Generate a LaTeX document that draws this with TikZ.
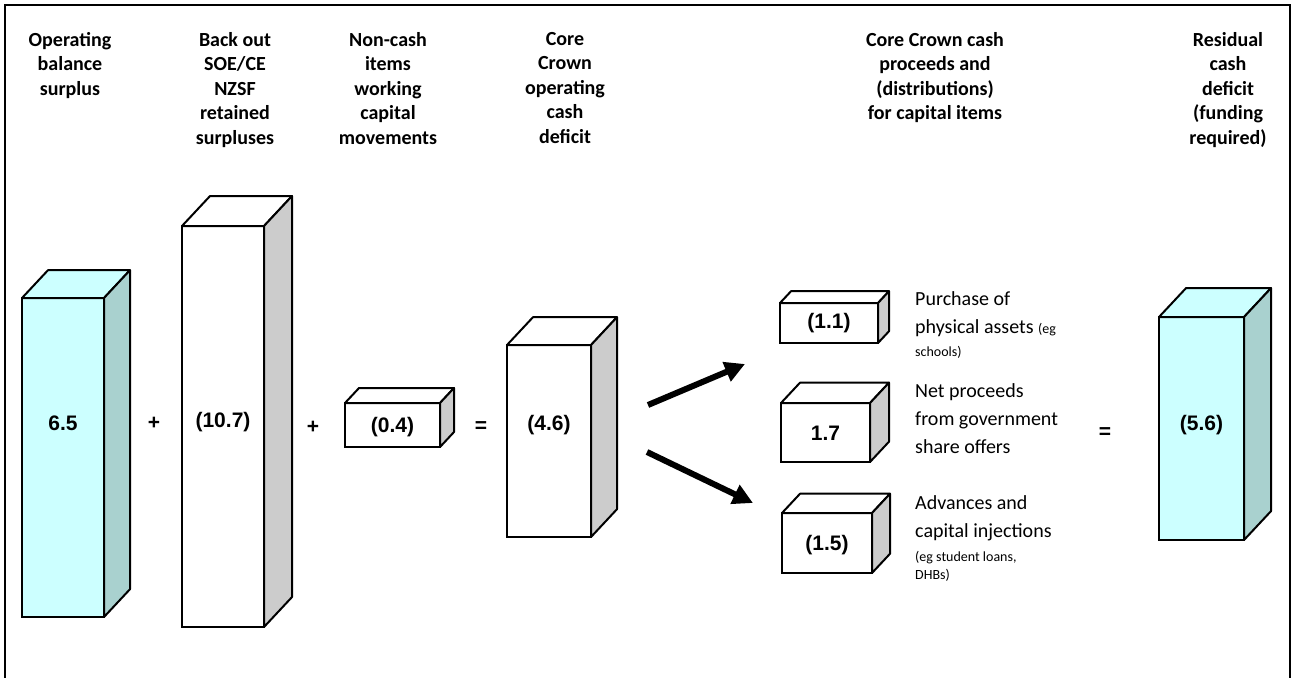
\documentclass[tikz,border=0pt]{standalone}
\usepackage{fontspec}
\setmainfont{Carlito}
\newfontfamily\arialfont{Liberation Sans}
\usetikzlibrary{arrows.meta}

\definecolor{cyanface}{HTML}{CCFFFF}
\definecolor{cyanshade}{HTML}{A9D1CF}
\definecolor{greyshade}{HTML}{CCCCCC}

\newcommand{\notesmall}{\fontsize{14}{16}\selectfont}

\tikzset{
  front/.style={draw, line width=2pt, anchor=north west, inner sep=0pt, outer sep=0pt},
  cyanbox/.style={fill=cyanface},
  cyanbox side/.style={fill=cyanshade},
  whitebox/.style={fill=white},
  whitebox side/.style={fill=greyshade},
  value/.style={font=\arialfont\bfseries\fontsize{21}{24}\selectfont, inner sep=0pt},
  heading/.style={font=\bfseries\fontsize{20}{24.5}\selectfont, align=center, anchor=north, inner sep=0pt},
  note/.style={font=\fontsize{20}{28}\selectfont, align=left, anchor=base west, inner sep=0pt},
  flow/.style={line width=6pt, -{Triangle[length=20pt,width=20pt]}},
}

% name, x, y, width, height, depth, style, value y, value
\newcommand{\crate}[9]{%
  \node[front,#7,minimum width=#4,minimum height=#5] (#1) at (#2,#3) {};
  \draw[line width=2pt,line join=round,#7] (#1.north west) -- ++(#6,-#6*1.07) -- ++(#4,0) -- (#1.north east) -- cycle;
  \draw[line width=2pt,line join=round,#7 side] (#1.north east) -- ++(#6,-#6*1.07) -- ++(0,#5) -- (#1.south east) -- cycle;
  \node[value] (#1-val) at ({#2+#4/2},#8) {#9};
}

\begin{document}
\begin{tikzpicture}[x=1pt,y=-1pt]
  \useasboundingbox (0,0) rectangle (1292,677);
  \draw[line width=2pt] (5,700) -- (5,5) -- (1290,5) -- (1290,700);

  % column headings
  \node[heading] (h-bal)   at (70,32)   {Operating\\balance\\surplus};
  \node[heading] (h-soe)   at (235,32)  {Back out\\SOE/CE\\NZSF\\retained\\surpluses};
  \node[heading] (h-nonc)  at (388,32)  {Non-cash\\items\\working\\capital\\movements};
  \node[heading] (h-core)  at (565,32)  {Core\\Crown\\operating\\cash\\deficit};
  \node[heading] (h-cap)   at (935,32)  {Core Crown cash\\proceeds and\\(distributions)\\for capital items};
  \node[heading] (h-resid) at (1228,32) {Residual\\cash\\deficit\\(funding\\required)};

  % boxes
  \crate{bal}{22}{298}{82}{319}{26}{cyanbox}{423}{6.5}
  \crate{soe}{182}{226}{82}{401}{28}{whitebox}{422}{(10.7)}
  \crate{nonc}{345}{403}{95}{44}{14}{whitebox}{427}{(0.4)}
  \crate{core}{507}{345}{84}{192}{26}{whitebox}{425}{(4.6)}
  \crate{phys}{780}{303}{98}{40}{11}{whitebox}{323}{(1.1)}
  \crate{share}{781}{403}{89}{59}{19}{whitebox}{433}{1.7}
  \crate{adv}{782}{513}{90}{60}{18}{whitebox}{545}{(1.5)}
  \crate{resid}{1159}{317}{85}{223}{27}{cyanbox}{425}{(5.6)}

  % operators
  \node[value] (plus1) at (154,423) {+};
  \node[value] (plus2) at (313,427) {+};
  \node[value] (eq1)   at (481,427) {=};
  \node[value] (eq2)   at (1105,433) {=};

  % split arrows
  \coordinate (fork up)   at (648,405);
  \coordinate (fork down) at (647,452);
  \coordinate (to phys)   at (745,364);
  \coordinate (to adv)    at (753,503);
  \draw[flow] (fork up) -- (to phys);
  \draw[flow] (fork down) -- (to adv);

  % capital item notes (anchored on last line)
  \node[note] (n-phys)  at (915,356) {Purchase of\\physical assets {\notesmall (eg}\\[-5pt]{\notesmall schools)}};
  \node[note] (n-share) at (915,453) {Net proceeds\\from government\\share offers};
  \node[note] (n-adv)   at (915,579) {Advances and\\capital injections\\[-4pt]{\notesmall (eg student loans,}\\[-10pt]{\notesmall DHBs)}};
\end{tikzpicture}
\end{document}
